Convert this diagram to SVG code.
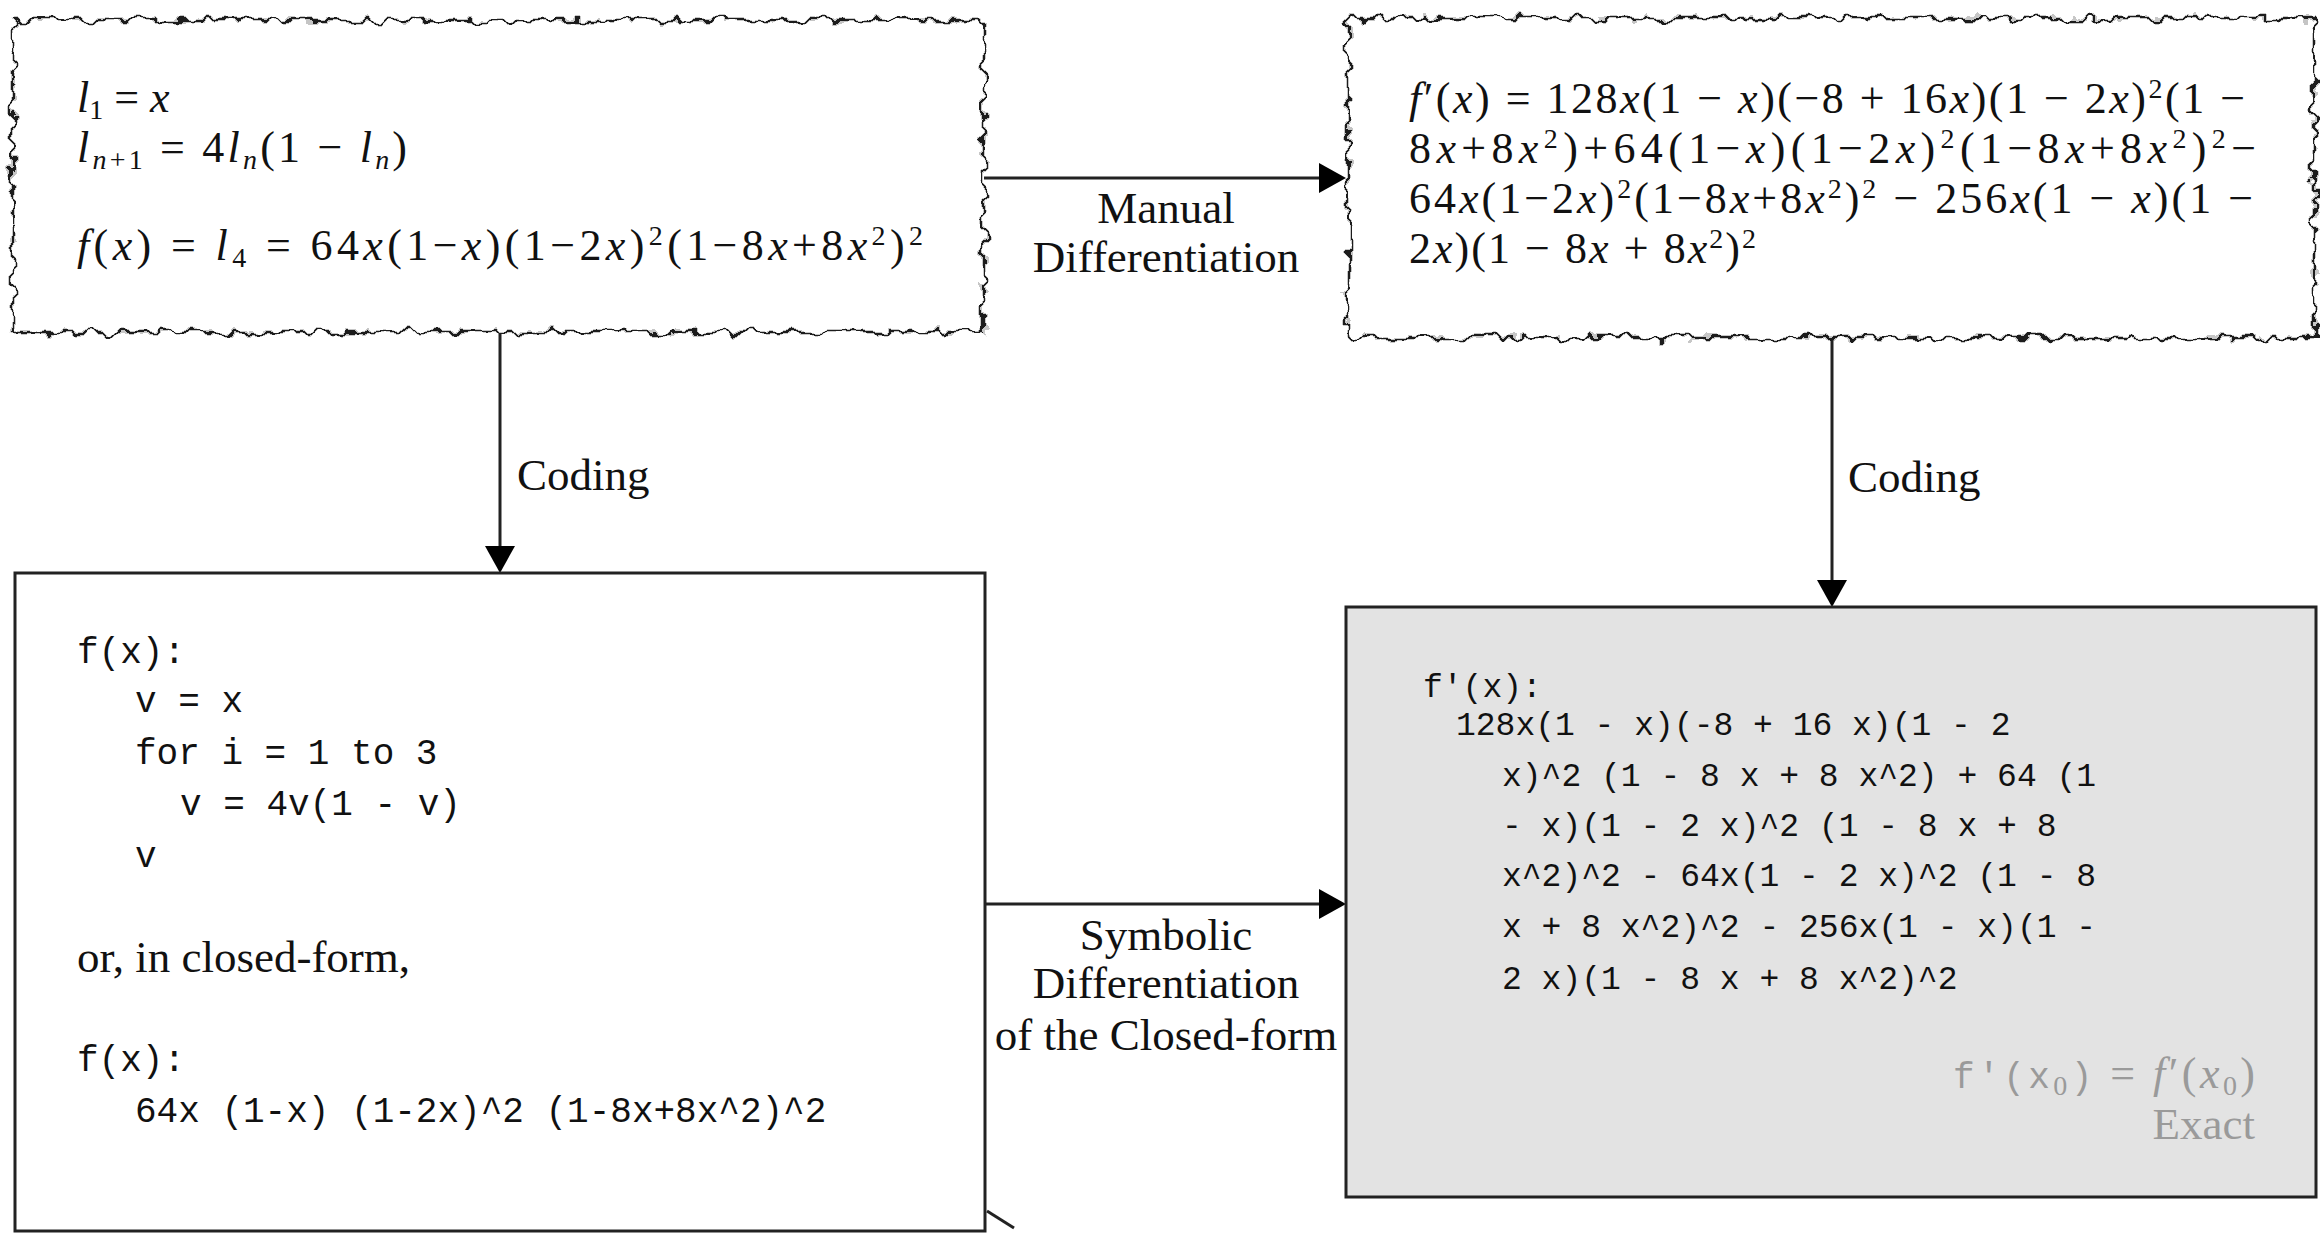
<svg xmlns="http://www.w3.org/2000/svg" width="2320" height="1233" viewBox="0 0 2320 1233">
<defs>
<style>
.lbl{font-family:"Liberation Serif",serif;font-size:45px;fill:#111;text-anchor:middle}
.lbl0{font-family:"Liberation Serif",serif;font-size:45px;fill:#111}
.math{font-family:"Liberation Serif",serif;font-size:44px;fill:#111}
.i{font-style:italic}
.sub{font-size:28px}
.code{font-family:"Liberation Mono",monospace;font-size:36px;fill:#111}
.code2{font-family:"Liberation Mono",monospace;font-size:33px;fill:#111}
.gray{fill:#9a9a9a}
.rough{fill:#fff;stroke:#1a1a1a;stroke-width:2.5;filter:url(#rough)}
.box{fill:#fff;stroke:#222;stroke-width:3}
.gbox{fill:#e3e3e3;stroke:#222;stroke-width:3}
.conn{fill:none;stroke:#222;stroke-width:3}
</style>
<filter id="rough" x="-3%" y="-10%" width="106%" height="120%" filterUnits="objectBoundingBox">
<feTurbulence type="fractalNoise" baseFrequency="0.07" numOctaves="2" seed="5" result="n"/>
<feDisplacementMap in="SourceGraphic" in2="n" scale="18" xChannelSelector="R" yChannelSelector="G"/>
</filter>
<marker id="ah" markerUnits="userSpaceOnUse" markerWidth="30" markerHeight="32" refX="17" refY="15" orient="auto">
<path d="M0,0 L27,15 L0,30 z" fill="#000"/>
</marker>
</defs>

<g id="connectors">
<line class="conn" x1="984" y1="178" x2="1336" y2="178" marker-end="url(#ah)"/>
<line class="conn" x1="500" y1="333" x2="500" y2="563" marker-end="url(#ah)"/>
<line class="conn" x1="1832" y1="340" x2="1832" y2="597" marker-end="url(#ah)"/>
<line class="conn" x1="985" y1="904" x2="1336" y2="904" marker-end="url(#ah)"/>
<line class="conn" x1="987" y1="1211" x2="1014" y2="1228"/>
<g id="label-manual">
<text class="lbl" x="1166" y="223">Manual</text>
<text class="lbl" x="1166" y="272">Differentiation</text>
</g>
<text id="label-coding-left" class="lbl0" x="517" y="490">Coding</text>
<text id="label-coding-right" class="lbl0" x="1848" y="492">Coding</text>
<g id="label-symbolic">
<text class="lbl" x="1166" y="950">Symbolic</text>
<text class="lbl" x="1166" y="998">Differentiation</text>
<text class="lbl" x="1166" y="1050">of the Closed-form</text>
</g>
</g>

<g id="node-recurrence">
<rect class="rough" x="13" y="20" width="971" height="312"/>
<text class="math" x="77" y="112"><tspan class="i">l</tspan><tspan class="sub" dy="7">1</tspan><tspan dy="-7"> = </tspan><tspan class="i">x</tspan></text>
<text class="math" x="77" y="162" textLength="330"><tspan class="i">l</tspan><tspan class="sub i" dy="7">n</tspan><tspan class="sub">+1</tspan><tspan dy="-7"> = 4</tspan><tspan class="i">l</tspan><tspan class="sub i" dy="7">n</tspan><tspan dy="-7">(1 − </tspan><tspan class="i">l</tspan><tspan class="sub i" dy="7">n</tspan><tspan dy="-7">)</tspan></text>
<text class="math" x="77" y="260" textLength="846"><tspan class="i">f</tspan>(<tspan class="i">x</tspan>) = <tspan class="i">l</tspan><tspan class="sub" dy="7">4</tspan><tspan dy="-7"> = 64</tspan><tspan class="i">x</tspan>(1−<tspan class="i">x</tspan>)(1−2<tspan class="i">x</tspan>)<tspan class="sub" dy="-15">2</tspan><tspan dy="15">(1−8</tspan><tspan class="i">x</tspan>+8<tspan class="i">x</tspan><tspan class="sub" dy="-15">2</tspan><tspan dy="15">)</tspan><tspan class="sub" dy="-15">2</tspan></text>
</g>

<g id="node-derivative">
<rect class="rough" x="1348" y="18" width="966" height="320"/>
<text class="math" x="1409" y="113" textLength="836"><tspan class="i">f</tspan>′(<tspan class="i">x</tspan>) = 128<tspan class="i">x</tspan>(1 − <tspan class="i">x</tspan>)(−8 + 16<tspan class="i">x</tspan>)(1 − 2<tspan class="i">x</tspan>)<tspan class="sub" dy="-15">2</tspan><tspan dy="15">(1 −</tspan></text>
<text class="math" x="1409" y="163" textLength="847">8<tspan class="i">x</tspan>+8<tspan class="i">x</tspan><tspan class="sub" dy="-15">2</tspan><tspan dy="15">)+64(1−</tspan><tspan class="i">x</tspan>)(1−2<tspan class="i">x</tspan>)<tspan class="sub" dy="-15">2</tspan><tspan dy="15">(1−8</tspan><tspan class="i">x</tspan>+8<tspan class="i">x</tspan><tspan class="sub" dy="-15">2</tspan><tspan dy="15">)</tspan><tspan class="sub" dy="-15">2</tspan><tspan dy="15">−</tspan></text>
<text class="math" x="1409" y="213" textLength="844">64<tspan class="i">x</tspan>(1−2<tspan class="i">x</tspan>)<tspan class="sub" dy="-15">2</tspan><tspan dy="15">(1−8</tspan><tspan class="i">x</tspan>+8<tspan class="i">x</tspan><tspan class="sub" dy="-15">2</tspan><tspan dy="15">)</tspan><tspan class="sub" dy="-15">2</tspan><tspan dy="15"> − 256</tspan><tspan class="i">x</tspan>(1 − <tspan class="i">x</tspan>)(1 −</text>
<text class="math" x="1409" y="263" textLength="347">2<tspan class="i">x</tspan>)(1 − 8<tspan class="i">x</tspan> + 8<tspan class="i">x</tspan><tspan class="sub" dy="-15">2</tspan><tspan dy="15">)</tspan><tspan class="sub" dy="-15">2</tspan></text>
</g>

<g id="node-code">
<rect class="box" x="15" y="573" width="970" height="658"/>
<text class="code" x="77" y="663">f(x):</text>
<text class="code" x="135" y="712">v = x</text>
<text class="code" x="135" y="764">for i = 1 to 3</text>
<text class="code" x="180" y="815">v = 4v(1 - v)</text>
<text class="code" x="135" y="867">v</text>
<text class="lbl0" x="77" y="972">or, in closed-form,</text>
<text class="code" x="77" y="1071">f(x):</text>
<text class="code" x="135" y="1122">64x (1-x) (1-2x)^2 (1-8x+8x^2)^2</text>
</g>

<g id="node-symbolic">
<rect class="gbox" x="1346" y="607" width="970" height="590"/>
<text class="code2" x="1423" y="697">f'(x):</text>
<text class="code2" x="1456" y="735">128x(1 - x)(-8 + 16 x)(1 - 2</text>
<text class="code2" x="1502" y="786">x)^2 (1 - 8 x + 8 x^2) + 64 (1</text>
<text class="code2" x="1502" y="836">- x)(1 - 2 x)^2 (1 - 8 x + 8</text>
<text class="code2" x="1502" y="886">x^2)^2 - 64x(1 - 2 x)^2 (1 - 8</text>
<text class="code2" x="1502" y="937">x + 8 x^2)^2 - 256x(1 - x)(1 -</text>
<text class="code2" x="1502" y="989">2 x)(1 - 8 x + 8 x^2)^2</text>
<text class="math gray" x="2255" y="1088" text-anchor="end" textLength="302"><tspan style="font-family:'Liberation Mono',monospace;font-size:36px">f'(x</tspan><tspan class="sub" dy="7">0</tspan><tspan dy="-7" style="font-family:'Liberation Mono',monospace;font-size:36px">)</tspan> = <tspan class="i">f</tspan>′(<tspan class="i">x</tspan><tspan class="sub" dy="7">0</tspan><tspan dy="-7">)</tspan></text>
<text class="lbl0 gray" x="2255" y="1139" text-anchor="end">Exact</text>
</g>
</svg>
